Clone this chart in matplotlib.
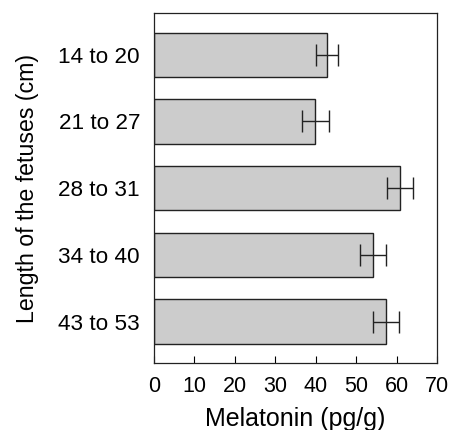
import matplotlib
matplotlib.use('Agg')
import matplotlib.pyplot as plt
import numpy as np

plt.rcParams['font.family'] = ['Liberation Sans', 'DejaVu Sans']

# fetus length groups (top to bottom)
groups = ['14 to 20', '21 to 27', '28 to 31', '34 to 40', '43 to 53']
melatonin = [42.8, 39.9, 60.9, 54.2, 57.5]
errors = [2.8, 3.3, 3.2, 3.3, 3.2]
x_ticks = [0, 10, 20, 30, 40, 50, 60, 70]

fig = plt.figure(figsize=(4.5, 4.3), dpi=100)
ax = fig.add_axes([0.342, 0.156, 0.629, 0.813])

y = np.arange(len(groups))
ax.barh(y, melatonin, height=0.665, color='#cccccc', edgecolor='#222222',
        linewidth=1.0, zorder=2)
ax.errorbar(melatonin, y, xerr=errors, fmt='none', ecolor='#222222',
            elinewidth=1.0, capsize=7.8, capthick=1.0, zorder=3)

ax.set_xlim(0, 70)
ax.set_ylim(4.62, -0.62)
ax.set_xticks(x_ticks)
ax.set_yticks(y)
ax.set_yticklabels(groups)
ax.tick_params(axis='x', direction='in', length=5, width=0.8, labelsize=15.5, pad=9.5)
ax.tick_params(axis='y', length=0, labelsize=16.2, pad=10)
for s in ax.spines.values():
    s.set_linewidth(0.9)
    s.set_color('#222222')

ax.set_xlabel('Melatonin (pg/g)', fontsize=18, labelpad=7)
ax.set_ylabel('Length of the fetuses (cm)', fontsize=16.7, labelpad=14)

fig.savefig('out.png', dpi=100)
